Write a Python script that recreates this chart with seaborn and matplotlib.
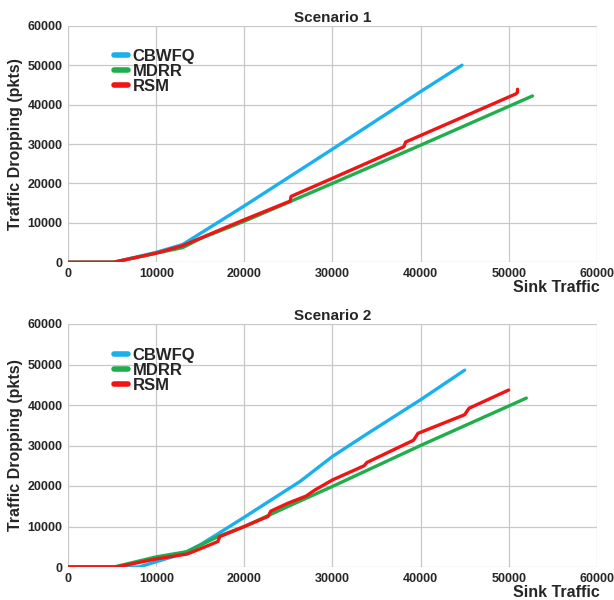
import pandas as pd
import seaborn as sns
import matplotlib
matplotlib.use('Agg')
import matplotlib.pyplot as plt

# Scenario 1 curves (sink traffic vs dropped packets)
s1_cbwfq_x = [0, 5200, 10000, 13000, 20000, 30000, 40000, 44700]
s1_cbwfq_y = [0, 0, 2500, 4500, 14300, 28700, 43300, 50000]
s1_mdrr_x = [0, 5200, 10000, 13000, 15000, 20000, 30000, 40000, 52700]
s1_mdrr_y = [0, 0, 2300, 3700, 6000, 10400, 20000, 29700, 42200]
s1_rsm_x = [0, 5200, 10000, 13000, 20000, 25200, 25300, 30000, 38100, 38300, 50800, 51000, 51000]
s1_rsm_y = [0, 0, 2300, 4200, 10800, 15500, 16700, 21300, 29300, 30500, 42700, 43100, 43900]

# Scenario 2 curves
s2_cbwfq_x = [0, 8000, 10000, 13000, 15000, 17000, 20000, 23000, 26300, 30000, 33800, 40000, 45000]
s2_cbwfq_y = [0, 0, 1300, 3300, 5500, 8200, 12300, 16500, 21100, 27300, 32700, 41300, 48600]
s2_mdrr_x = [0, 5200, 10000, 13500, 17000, 20000, 25000, 30000, 40000, 52000]
s2_mdrr_y = [0, 0, 2500, 3800, 7500, 10000, 15000, 19900, 30000, 41700]
s2_rsm_x = [0, 5500, 10000, 13500, 15000, 17000, 17200, 20000, 22700, 23000, 25000, 27000, 28000,
            30000, 33600, 33900, 39200, 39700, 45000, 45500, 50000]
s2_rsm_y = [0, 0, 2000, 3200, 4500, 6300, 7500, 10000, 12500, 13800, 15800, 17500, 19000,
            21500, 25000, 25800, 31300, 33000, 37600, 39200, 43700]

scenarios = {
    'Scenario 1': [('CBWFQ', s1_cbwfq_x, s1_cbwfq_y), ('MDRR', s1_mdrr_x, s1_mdrr_y), ('RSM', s1_rsm_x, s1_rsm_y)],
    'Scenario 2': [('CBWFQ', s2_cbwfq_x, s2_cbwfq_y), ('MDRR', s2_mdrr_x, s2_mdrr_y), ('RSM', s2_rsm_x, s2_rsm_y)],
}
colors = {'CBWFQ': '#1ab0eb', 'MDRR': '#1fae4b', 'RSM': '#f01414'}

sns.set_style('whitegrid')
plt.rcParams['font.family'] = ['Liberation Sans', 'DejaVu Sans']
plt.rcParams['font.weight'] = 'bold'

fig = plt.figure(figsize=(6.14, 6.0), dpi=100)
boxes = [[0.111, 0.563, 0.861, 0.394], [0.111, 0.055, 0.861, 0.405]]

for box, (title, series) in zip(boxes, scenarios.items()):
    ax = fig.add_axes(box)
    for name, xs, ys in series:
        df = pd.DataFrame({'x': xs, 'y': ys})
        sns.lineplot(data=df, x='x', y='y', sort=False, estimator=None, color=colors[name],
                     linewidth=2.4, label=name, ax=ax)
    ax.set_xlim(0, 60000)
    ax.set_ylim(0, 60000)
    ax.set_xticks(range(0, 60001, 10000))
    ax.set_yticks(range(0, 60001, 10000))
    ax.tick_params(labelsize=9, pad=4, length=0)
    for lab in ax.get_xticklabels() + ax.get_yticklabels():
        lab.set_fontweight('bold')
    ax.grid(color='#c8c8c8', linewidth=0.9)
    for sp in ax.spines.values():
        sp.set_visible(False)
    ax.set_xlabel('')
    ax.set_ylabel('Traffic Dropping (pkts)', fontsize=11.5, fontweight='bold', labelpad=3)
    ax.set_title(title, fontsize=11, fontweight='bold', pad=3)
    ax.annotate('Sink Traffic', xy=(1.005, 0), xycoords='axes fraction', xytext=(0, -13),
                textcoords='offset points', ha='right', va='top', fontsize=11.5, fontweight='bold')
    leg = ax.legend(loc='upper left', bbox_to_anchor=(0.075, 0.93), frameon=False, fontsize=12,
                    handlelength=0.8, handletextpad=0.3, labelspacing=0.0, borderaxespad=0)
    for h in leg.get_lines():
        h.set_linewidth(4)
    for t in leg.get_texts():
        t.set_fontweight('bold')

fig.savefig('out.png', dpi=100)
